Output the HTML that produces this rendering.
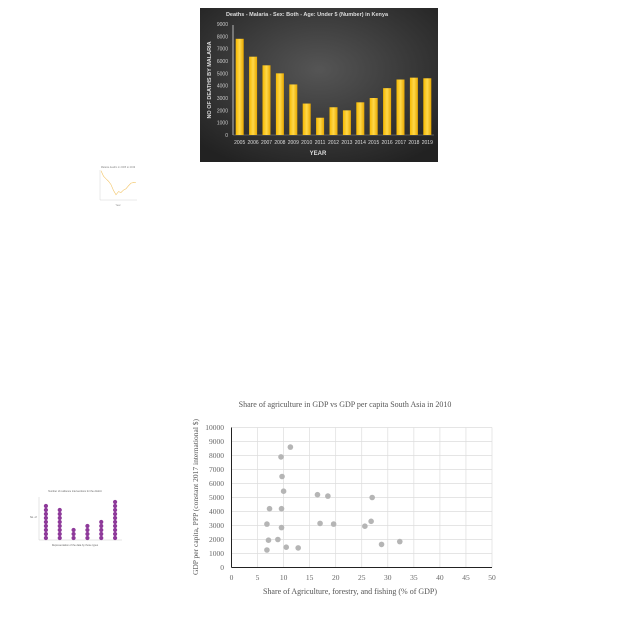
<!DOCTYPE html>
<html><head><meta charset="utf-8"><style>
body{margin:0;background:#fff;width:640px;height:640px;overflow:hidden;font-family:"Liberation Sans",sans-serif}
svg{position:absolute;left:0;top:0}
</style></head><body>
<svg width="640" height="640">
<defs><radialGradient id="bg" cx="50%" cy="40%" r="70%"><stop offset="0" stop-color="#555"/><stop offset="1" stop-color="#222"/></radialGradient>
<linearGradient id="bar" x1="0" x2="1"><stop offset="0" stop-color="#f5b800"/><stop offset="0.5" stop-color="#ffd84a"/><stop offset="1" stop-color="#e8a800"/></linearGradient></defs>
<g id="barchart">
<rect x="200" y="8" width="238" height="154" fill="url(#bg)"/>
<text x="307" y="16" fill="#ddd" font-size="5.5" font-weight="bold" text-anchor="middle">Deaths - Malaria - Sex: Both - Age: Under 5 (Number) in Kenya</text>
<text x="318" y="155" fill="#ddd" font-size="6" font-weight="bold" text-anchor="middle">YEAR</text>
<text transform="translate(211,80) rotate(-90)" fill="#ddd" font-size="5.5" font-weight="bold" text-anchor="middle">NO OF DEATHS BY MALARIA</text>
<line x1="233" y1="25" x2="233" y2="135" stroke="#eee" stroke-width="0.7"/>
<line x1="233" y1="135" x2="434" y2="135" stroke="#888" stroke-width="0.5"/>
</g>
<g id="linechart">
<rect x="97" y="164" width="42" height="40" fill="#fff"/>
<text x="118" y="168" font-size="2.5" fill="#888" text-anchor="middle">Malaria deaths in 2005 to 2019</text>
<line x1="100" y1="170" x2="100" y2="200" stroke="#ccc" stroke-width="0.4"/>
<line x1="100" y1="200" x2="137" y2="200" stroke="#ccc" stroke-width="0.4"/>
<text x="118" y="206" font-size="2.5" fill="#888" text-anchor="middle">Year</text>
</g>
<g id="dotchart">
<text x="75" y="492" font-size="2.5" fill="#666" text-anchor="middle">Number of resilience interventions for the district</text>
<line x1="39" y1="497" x2="39" y2="540" stroke="#bbb" stroke-width="0.4"/>
<line x1="39" y1="540" x2="122" y2="540" stroke="#bbb" stroke-width="0.4"/>
<text x="75" y="546" font-size="2.5" fill="#666" text-anchor="middle">Representation of the data by those types</text>
<text x="30" y="518" font-size="2.5" fill="#666">No. of</text>
</g>
<g id="scatter">
<text x="345" y="407" font-size="8" fill="#555" text-anchor="middle" font-family="Liberation Serif">Share of agriculture in GDP vs GDP per capita South Asia in 2010</text>
<text x="350" y="594" font-size="8" fill="#555" text-anchor="middle" font-family="Liberation Serif">Share of Agriculture, forestry, and fishing (% of GDP)</text>
<text transform="translate(198,497) rotate(-90)" font-size="7.5" fill="#555" text-anchor="middle" font-family="Liberation Serif">GDP per capita, PPP (constant 2017 international $)</text>
</g>
</svg>
<script>
const NS="http://www.w3.org/2000/svg";
function mk(p,t,a){const e=document.createElementNS(NS,t);for(const k in a)e.setAttribute(k,a[k]);p.appendChild(e);return e;}
// bar chart data
const barYears=["2005","2006","2007","2008","2009","2010","2011","2012","2013","2014","2015","2016","2017","2018","2019"];
const barValues=[7800,6350,5650,5000,4100,2550,1400,2250,2000,2650,3000,3800,4500,4650,4600];
const barTicks=[0,1000,2000,3000,4000,5000,6000,7000,8000,9000];
// scatter data
const scatterX=[11.3,9.5,9.7,10,16.5,18.5,27,7.3,9.6,6.8,9.6,17,19.6,25.6,26.8,7.1,8.9,10.5,12.8,6.8,28.8,32.3];
const scatterY=[8600,7900,6500,5450,5200,5100,5000,4200,4200,3100,2850,3150,3100,2950,3300,1950,2000,1450,1400,1250,1650,1850];
const sxTicks=[0,5,10,15,20,25,30,35,40,45,50];
const syTicks=[0,1000,2000,3000,4000,5000,6000,7000,8000,9000,10000];
// small line chart data
const lineValues=[7800,6350,5650,5000,4100,2550,1400,2250,2000,2650,3000,3800,4500,4650,4600];
// dot chart data
const dotCats=["a","b","c","d","e","f"];
const dotCounts=[9,8,3,4,5,10];

// bar chart
(function(){
const g=document.getElementById('barchart');
const x0=233,x1=434,yb=135,yt=24,max=9000;
const ys=v=>yb-(v/max)*(yb-yt);
const bw=(x1-x0)/barYears.length;
barTicks.forEach(t=>{const e=mk(g,'text',{x:228,y:ys(t)+2,'font-size':5,fill:'#ccc','text-anchor':'end'});e.textContent=t;

});
barValues.forEach((v,i)=>{const cx=x0+bw*(i+0.5);
const r=mk(g,'rect',{x:cx-4,y:ys(v),width:8,height:yb-ys(v),fill:'url(#bar)'});


const t=mk(g,'text',{x:cx,y:144,'font-size':5,fill:'#ddd','text-anchor':'middle'});t.textContent=barYears[i];

});
})();
// small line
(function(){
const g=document.getElementById('linechart');
const x0=101,x1=136,yb=200,yt=170,max=8000;
const pts=lineValues.map((v,i)=>(x0+(x1-x0)*i/(lineValues.length-1))+','+(yb-v/max*(yb-yt))).join(' ');
const p=mk(g,'polyline',{points:pts,fill:'none',stroke:'#f3c66a','stroke-width':0.6});


})();
// dot chart
(function(){
const g=document.getElementById('dotchart');
const x0=39,x1=122,yb=538;
const w=(x1-x0)/dotCats.length;
dotCats.forEach((c,i)=>{const cx=x0+w*(i+0.5);
for(let k=0;k<dotCounts[i];k++){const d=mk(g,'circle',{cx:cx,cy:yb-k*4,r:2.1,fill:'#8e3a9a'});

}});
})();
// scatter
(function(){
const g=document.getElementById('scatter');
const x0=231.5,x1=492,yb=567.5,yt=427.5;
const xs=v=>x0+v/50*(x1-x0), ys=v=>yb-v/10000*(yb-yt);
sxTicks.forEach(t=>{mk(g,'line',{x1:xs(t),x2:xs(t),y1:yt,y2:yb,stroke:'#ddd','stroke-width':0.7});
const e=mk(g,'text',{x:xs(t),y:580,'font-size':7.5,fill:'#666','text-anchor':'middle','font-family':'Liberation Serif'});e.textContent=t;

});
syTicks.forEach(t=>{mk(g,'line',{x1:x0,x2:x1,y1:ys(t),y2:ys(t),stroke:'#ddd','stroke-width':0.7});
const e=mk(g,'text',{x:224,y:ys(t)+2.5,'font-size':7.5,fill:'#666','text-anchor':'end','font-family':'Liberation Serif'});e.textContent=t;

});
mk(g,'line',{x1:x0,x2:x0,y1:yt,y2:yb,stroke:'#222','stroke-width':1});
mk(g,'line',{x1:x0,x2:x1,y1:yb,y2:yb,stroke:'#222','stroke-width':1});
scatterX.forEach((v,i)=>{const c=mk(g,'circle',{cx:xs(v),cy:ys(scatterY[i]),r:2.8,fill:'#b5b5b5'});

});
})();
</script>
</body></html>
